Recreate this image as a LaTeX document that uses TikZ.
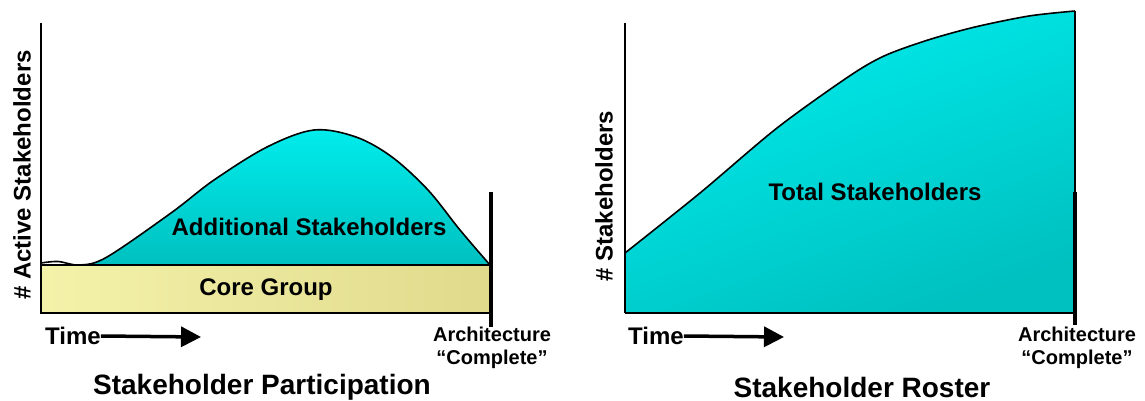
\documentclass[tikz,border=0pt]{standalone}
\usepackage{fontspec}
\setmainfont{Liberation Sans}
\usetikzlibrary{arrows.meta}
\definecolor{cyanA}{RGB}{0,236,236}
\definecolor{cyanB}{RGB}{0,192,192}
\definecolor{yelA}{RGB}{244,242,170}
\definecolor{yelB}{RGB}{224,218,140}
\tikzset{
  lbl/.style={font=\bfseries\fontsize{24}{26}\selectfont, inner sep=0pt},
  small/.style={font=\bfseries\fontsize{20}{23}\selectfont, inner sep=0pt, align=center},
  title/.style={font=\bfseries\fontsize{28}{30}\selectfont, inner sep=0pt},
  axis/.style={line width=1.6pt, black},
  bar/.style={line width=4pt, black},
  timearrow/.style={line width=3.5pt, -{Triangle[length=20pt,width=20pt]}},
  curve/.style={line width=1.6pt, black, line join=round},
}
\begin{document}
\begin{tikzpicture}[x=1pt,y=-1pt]
\useasboundingbox (0,0) rectangle (1145,401);
% ---------------- left panel ----------------
\fill[left color=yelA, right color=yelB] (41,265) rectangle (490,313);
\shade[top color=cyanA, bottom color=cyanB]
  plot[smooth, tension=0.55] coordinates {(80,265) (107,257) (171,213) (214,180) (267,147) (314,130) (356,137) (392,157) (428,190) (460,230) (490,265)} -- cycle;
\draw[curve] plot[smooth, tension=0.55] coordinates {(41,263) (58,261.5) (80,265) (107,257) (171,213) (214,180) (267,147) (314,130) (356,137) (392,157) (428,190) (460,230) (490,265)};
\draw[line width=1.4pt] (41,265) rectangle (490,313);
\draw[axis] (41,23) -- (41,313);
\coordinate (lbt) at (491,192);
\coordinate (lbb) at (491,327);
\draw[bar] (lbt) -- (lbb);
\node[lbl, rotate=90] (ylabL) at (22,175) {\# Active Stakeholders};
\node[lbl] (addl) at (309,227) {Additional Stakeholders};
\node[lbl] (core) at (266,290) {Core Group};
\node[lbl, anchor=west] (timeL) at (45,336) {Time};
\coordinate (timeLend) at (201,337);
\draw[timearrow] (timeL.east) -- (timeLend);
\node[small] (archL) at (492,348) {Architecture\\``Complete''};
\node[title] (titleL) at (262,387) {Stakeholder Participation};
% ---------------- right panel ----------------
\shade[top color=cyanA, bottom color=cyanB, shading angle=20]
  (625,313) -- plot[smooth, tension=0.5] coordinates {(625,253) (700,193) (777,128) (848,77) (884,56) (928,40) (975,27) (1029,16) (1075,11)} -- (1075,313) -- cycle;
\draw[curve] plot[smooth, tension=0.5] coordinates {(625,253) (700,193) (777,128) (848,77) (884,56) (928,40) (975,27) (1029,16) (1075,11)};
\draw[line width=1.4pt] (625,313) -- (1075,313);
\draw[line width=1.4pt] (1075,11) -- (1075,193);
\draw[axis] (625,23) -- (625,313);
\coordinate (rbt) at (1075,192);
\coordinate (rbb) at (1075,325);
\draw[bar] (rbt) -- (rbb);
\node[lbl, rotate=90] (ylabR) at (604,196) {\# Stakeholders};
\node[lbl] (total) at (875,192) {Total Stakeholders};
\node[lbl, anchor=west] (timeR) at (628,336) {Time};
\coordinate (timeRend) at (784,337);
\draw[timearrow] (timeR.east) -- (timeRend);
\node[small] (archR) at (1077,348) {Architecture\\``Complete''};
\node[title] (titleR) at (862,387) {Stakeholder Roster};
\end{tikzpicture}
\end{document}
